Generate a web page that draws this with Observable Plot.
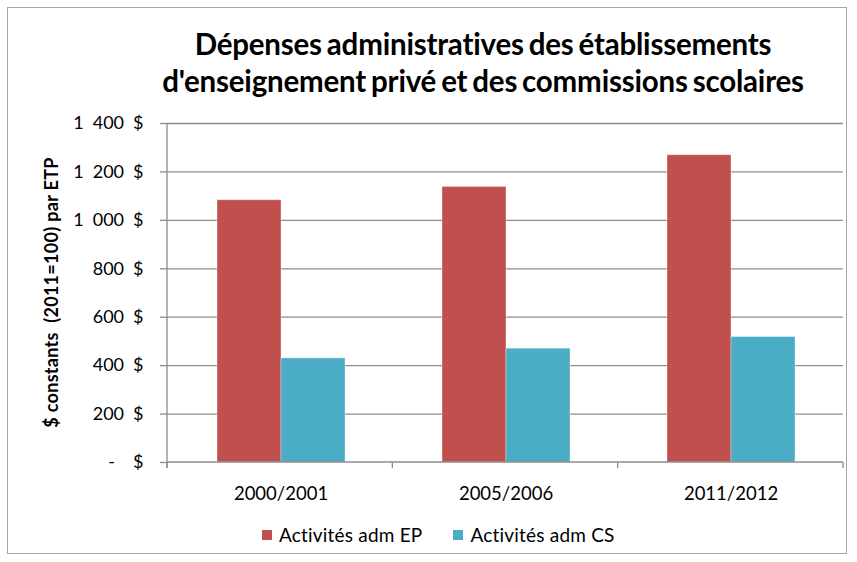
<!DOCTYPE html>
<html>
<head>
<meta charset="utf-8">
<script src="https://cdn.jsdelivr.net/npm/d3@7"></script>
<script src="https://cdn.jsdelivr.net/npm/@observablehq/plot@0.6"></script>
<style>
  html, body { margin: 0; padding: 0; background: #fff; }
  body { width: 857px; height: 562px; position: relative; overflow: hidden; font-family: Lato, "Open Sans", sans-serif; }
  #frame { position: absolute; left: 7px; top: 7px; width: 840px; height: 547px; border: 1px solid #a6a6a6; box-sizing: border-box; }
  #title { position: absolute; left: 0; top: 25px; width: 966px; text-align: center; font-weight: bold; font-size: 29.5px; line-height: 37px; color: #000; letter-spacing: -0.2px; word-spacing: -2px; }
  #chart { position: absolute; left: 0; top: 110px; }
  #legend { position: absolute; top: 523px; left: 262px; display: flex; align-items: center; font-size: 19px; letter-spacing: 0.2px; color: #000; }
  .sw { display: inline-block; width: 10px; height: 10px; margin-right: 7px; }
  .item { display: flex; align-items: center; margin-right: 31px; }
</style>
</head>
<body>
<div id="frame"></div>
<div id="title">Dépenses administratives des établissements<br>d'enseignement privé et des commissions scolaires</div>
<div id="chart"></div>
<div id="legend"></div>
<script>
const years = ["2000/2001", "2005/2006", "2011/2012"];
const seriesNames = ["Activités adm EP", "Activités adm CS"];
const valuesEP = [1083, 1138, 1269];
const valuesCS = [430, 470, 518];
const colors = ["#C0504D", "#4BACC6"];
const yTicks = [0, 200, 400, 600, 800, 1000, 1200, 1400];
const yLabel = "$ constants  (2011=100) par ETP";

const data = [];
years.forEach((y, i) => {
  data.push({year: y, series: seriesNames[0], value: valuesEP[i]});
  data.push({year: y, series: seriesNames[1], value: valuesCS[i]});
});

const fmt = d => d === 0 ? "-\u2002\u2002$" : d3.format(",")(d).replace(",", "\u2002") + "\u2002$";

const chart = Plot.plot({
  width: 857,
  height: 400,
  marginTop: 13,
  marginBottom: 48,
  marginLeft: 167,
  marginRight: 14,
  style: { fontFamily: "Lato, sans-serif", fontSize: "18.5px", color: "#000", background: "transparent", overflow: "visible" },
  fx: { domain: years, padding: 0, label: null, axis: "bottom", tickSize: 0, tickPadding: 24 },
  x: { domain: seriesNames, paddingInner: 0, paddingOuter: 0.742, axis: null },
  y: { domain: [0, 1400], ticks: yTicks, label: null },
  color: { domain: seriesNames, range: colors },
  marks: [
    Plot.gridY(yTicks.filter(d => d > 0), { stroke: "#8c8c8c", strokeOpacity: 1, strokeWidth: 1.3 }),
    Plot.barY(data, { fx: "year", x: "series", y: "value", fill: "series", stroke: "#ffffff", strokeOpacity: 0.35, strokeWidth: 1 }),
    Plot.axisY(yTicks, { tickFormat: fmt, tickSize: 8, tickPadding: 17, stroke: "#8c8c8c", strokeWidth: 1.3, fontSize: 18, label: null })
  ]
});
document.getElementById("chart").appendChild(chart);

// Axis lines and category boundary ticks derived from the fx scale
const svg = d3.select(chart);
const fx = chart.scale("fx");
const ys = chart.scale("y");
const y0 = ys.apply(0);
const [rx0, rx1] = fx.range;
const step = (rx1 - rx0) / years.length;
const g = svg.append("g").attr("stroke", "#8c8c8c").attr("stroke-width", 1.3);
g.append("line").attr("x1", rx0).attr("x2", rx1).attr("y1", y0).attr("y2", y0);
g.append("line").attr("x1", rx0).attr("x2", rx0).attr("y1", ys.apply(1400)).attr("y2", y0 + 6);
d3.range(years.length + 1).forEach(i => {
  const x = rx0 + i * step;
  g.append("line").attr("x1", x).attr("x2", x).attr("y1", y0).attr("y2", y0 + 6);
});
// y axis title
svg.append("text")
  .attr("transform", `translate(58,${(ys.apply(1400) + y0) / 2}) rotate(-90)`)
  .attr("text-anchor", "middle")
  .attr("font-weight", "bold")
  .attr("font-size", 18)
  .attr("letter-spacing", 0.3)
  .attr("fill", "#000")
  .style("white-space", "pre")
  .text(yLabel);

// legend
const leg = document.getElementById("legend");
seriesNames.forEach((s, i) => {
  const it = document.createElement("div");
  it.className = "item";
  it.innerHTML = `<span class="sw" style="background:${colors[i]}"></span><span>${s}</span>`;
  leg.appendChild(it);
});
</script>
</body>
</html>
